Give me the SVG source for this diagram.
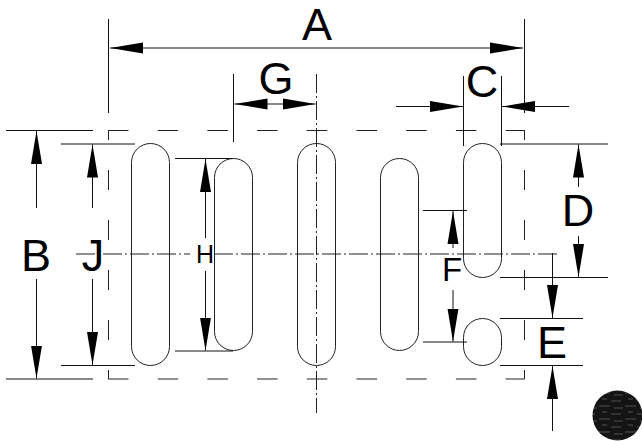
<svg xmlns="http://www.w3.org/2000/svg" width="642" height="441" viewBox="0 0 642 441">
<style>
line,rect.s{fill:none;stroke:#111;stroke-width:1}
rect.s{stroke:#222}
.dash{stroke:#222;stroke-dasharray:20.5 29.2}
.dashv{stroke:#222;stroke-dasharray:20 30;stroke-dashoffset:10}
.cen{stroke:#222;stroke-dasharray:19 3 2 3}
.arr{marker-end:url(#ah)}
text{font-family:"Liberation Sans",Arial,sans-serif;fill:#000;text-anchor:middle}
.big{font-size:45px}
</style>
<defs>
<marker id="ah" markerUnits="userSpaceOnUse" markerWidth="34" markerHeight="12" refX="33" refY="6" orient="auto">
<path d="M0 0.5L33 6L0 11.5Z" fill="#000"/>
</marker>
<pattern id="st" patternUnits="userSpaceOnUse" width="26" height="13">
<rect width="26" height="13" fill="#141414"/>
<path d="M1 3H12M16 5H25M4 9H9M13 11H23" stroke="#6a6a6a" stroke-width=".7"/>
</pattern>
</defs>
<g id="frame">
<line class="dash" x1="108" y1="130.5" x2="524.5" y2="130.5"/>
<line class="dash" x1="108" y1="379" x2="524.5" y2="379"/>
<line class="dashv" x1="108.5" y1="130" x2="108.5" y2="379"/>
<line class="dashv" x1="524.5" y1="130" x2="524.5" y2="379"/>
<line class="cen" x1="76" y1="254" x2="190" y2="254"/>
<line class="cen" x1="214" y1="254" x2="557" y2="254"/>
<line class="cen" x1="316.5" y1="74" x2="316.5" y2="413"/>
</g>
<g id="slots">
<rect id="slot1" class="s" x="131.5" y="143.5" width="38" height="222" rx="19"/>
<rect id="slot2" class="s" x="214.5" y="158.5" width="38" height="192" rx="19"/>
<rect id="slot3" class="s" x="297.5" y="143.5" width="38" height="222" rx="19"/>
<rect id="slot4" class="s" x="380.5" y="158.5" width="38" height="192" rx="19"/>
<rect id="slot5" class="s" x="463.5" y="143.5" width="38" height="134" rx="19"/>
<rect id="slot6" class="s" x="463.5" y="318.5" width="38" height="47" rx="19"/>
</g>
<g id="connectors">
<line x1="108.5" y1="19" x2="108.5" y2="113"/>
<line x1="524.5" y1="19" x2="524.5" y2="113"/>
<line x1="233.5" y1="74" x2="233.5" y2="142"/>
<line x1="463.5" y1="76" x2="463.5" y2="146"/>
<line x1="501.5" y1="76" x2="501.5" y2="146"/>
<line x1="6" y1="130.5" x2="93" y2="130.5"/>
<line x1="6" y1="379" x2="93" y2="379"/>
<line x1="61" y1="144" x2="135" y2="144"/>
<line x1="61" y1="365.5" x2="135" y2="365.5"/>
<line x1="175" y1="158.5" x2="233" y2="158.5"/>
<line x1="175" y1="351" x2="233" y2="351"/>
<line x1="500" y1="144" x2="608" y2="144"/>
<line x1="500" y1="277.5" x2="608" y2="277.5"/>
<line x1="500" y1="318.5" x2="583" y2="318.5"/>
<line x1="500" y1="365.5" x2="583" y2="365.5"/>
<line x1="423" y1="210.5" x2="467" y2="210.5"/>
<line x1="423" y1="342" x2="467" y2="342"/>
<line class="arr" x1="316" y1="48" x2="110" y2="48"/>
<line class="arr" x1="316" y1="48" x2="523" y2="48"/>
<line class="arr" x1="275" y1="104" x2="234.5" y2="104"/>
<line class="arr" x1="275" y1="104" x2="315.5" y2="104"/>
<line class="arr" x1="396" y1="106.5" x2="463" y2="106.5"/>
<line class="arr" x1="569" y1="106.5" x2="502" y2="106.5"/>
<line class="arr" x1="36.5" y1="208" x2="36.5" y2="131"/>
<line class="arr" x1="36.5" y1="279" x2="36.5" y2="378.5"/>
<line class="arr" x1="92.5" y1="208" x2="92.5" y2="144.5"/>
<line class="arr" x1="92.5" y1="279" x2="92.5" y2="365"/>
<line class="arr" x1="205.5" y1="238" x2="205.5" y2="159"/>
<line class="arr" x1="205.5" y1="271" x2="205.5" y2="350.5"/>
<line class="arr" x1="578.5" y1="187" x2="578.5" y2="144.5"/>
<line class="arr" x1="578.5" y1="236" x2="578.5" y2="277"/>
<line class="arr" x1="552.5" y1="253" x2="552.5" y2="318"/>
<line class="arr" x1="552.5" y1="431" x2="552.5" y2="366"/>
<line class="arr" x1="453" y1="248" x2="453" y2="211"/>
<line class="arr" x1="453" y1="290" x2="453" y2="341.5"/>
</g>
<g id="labels">
<text class="big" x="317" y="40">A</text>
<text class="big" x="276" y="94">G</text>
<text class="big" x="482" y="97">C</text>
<text class="big" x="578" y="226">D</text>
<text class="big" x="36" y="271">B</text>
<text class="big" x="93" y="271">J</text>
<text x="205" y="263" font-size="25">H</text>
<text x="452" y="281" font-size="33">F</text>
<text class="big" x="552" y="358">E</text>
</g>
<circle id="swatch" cx="617.5" cy="415.5" r="25" fill="url(#st)"/>
</svg>
